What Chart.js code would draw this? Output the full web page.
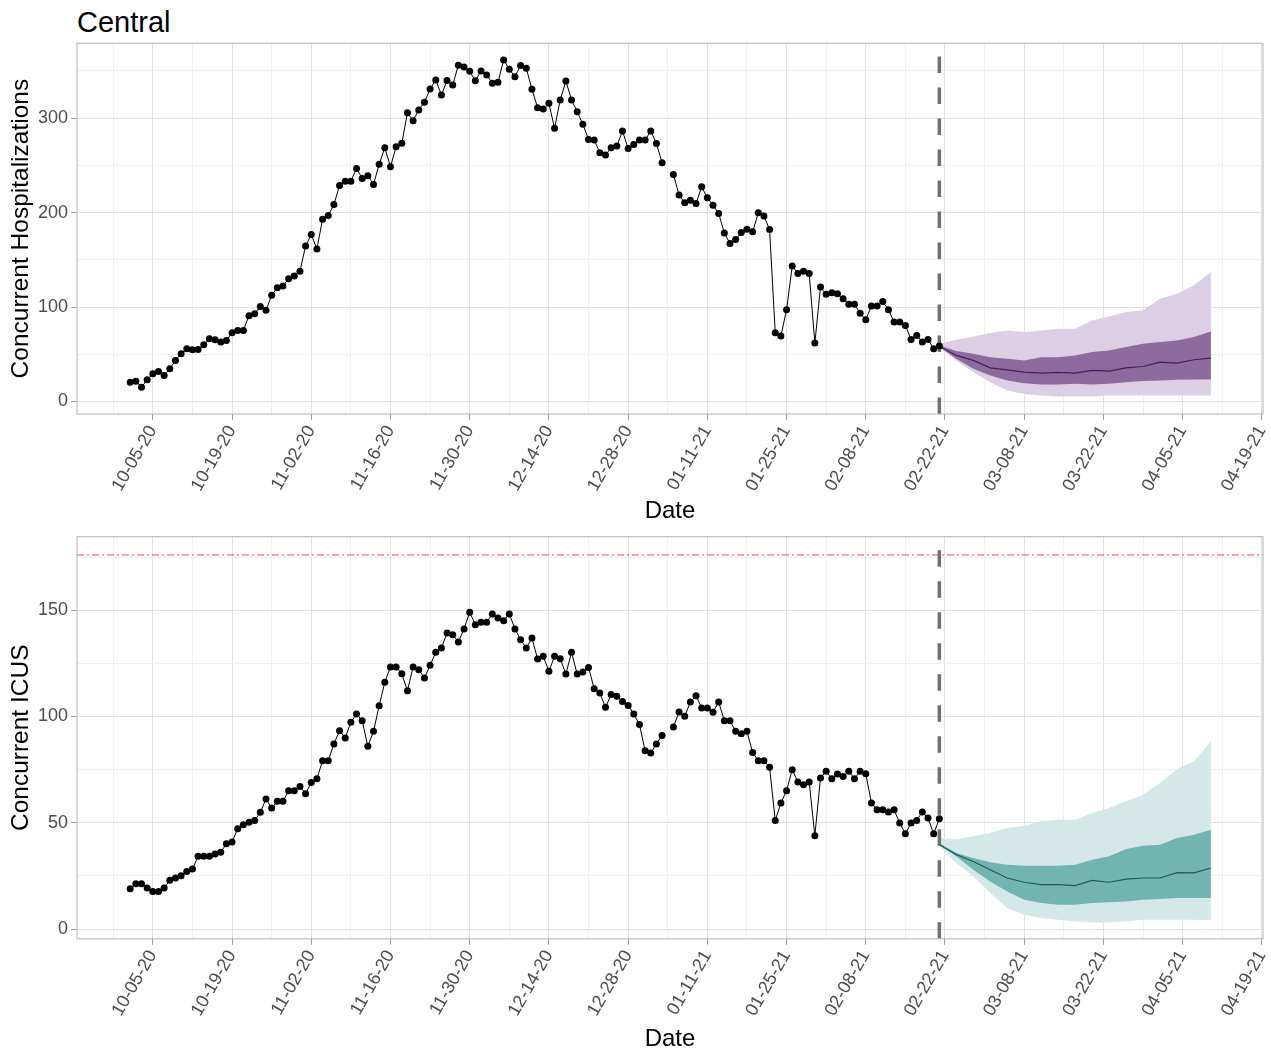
<!DOCTYPE html>
<html>
<head>
<meta charset="utf-8">
<script src="https://cdn.jsdelivr.net/npm/chart.js@4.4.1/dist/chart.umd.min.js"></script>
<style>
  html, body { margin: 0; padding: 0; background: #fff; }
  body { width: 1271px; height: 1051px; position: relative; overflow: hidden; font-family: "Liberation Sans", Arial, sans-serif; }
  #title { position: absolute; left: 77px; top: 8px; font-size: 29px; line-height: 29px; color: #000; }
  .box { position: absolute; left: 0; width: 1271px; }
  #top { top: 0; height: 526px; }
  #bottom { top: 526px; height: 525px; }
</style>
</head>
<body>
<div id="title">Central</div>
<div class="box" id="top"><canvas id="hospChart"></canvas></div>
<div class="box" id="bottom"><canvas id="icuChart"></canvas></div>
<script>
// x values are days since 10-05-20; observed data starts 10-01-20 (day -4), one value per day
const firstDay = -4;

const hospObs = [
  20.5, 21.5, 15.2, 23, 29.4, 31.8, 27.6, 34.7, 43.5, 50.6,
  55.9, 54.8, 55, 60, 66.5, 65.5, 62.9, 64.5, 72.8, 75.3,
  75.3, 90.9, 93, 100.7, 96.5, 112.4, 120.5, 122.3, 130, 132.9,
  137.9, 164.7, 176.7, 161.5, 193, 196.9, 208.6, 228.7, 233.3, 233.3,
  246.8, 236.2, 239, 229.8, 251.3, 268.6, 248.5, 269.7, 273.3, 305.7,
  297.2, 308.6, 316.8, 330.9, 340.4, 324.5, 339.7, 335.1, 356, 354,
  349.5, 339.5, 350, 345.7, 336.9, 337.9, 361.6, 351.7, 343.9, 355.6,
  352.8, 330.5, 311.1, 309.6, 315.7, 289.2, 319.2, 339.3, 319.2, 306.8,
  293.4, 277.5, 276.8, 263.3, 260.9, 268.6, 270.4, 286.3, 267.9, 272.2,
  276.8, 276.8, 286.3, 273.2, 252.7, null, 240.4, 218.5, 210.3, 213.1,
  209.6, 227.3, 215.6, 207.8, 199, 178.5, 167.2, 171.4, 178.9, 182.4,
  179.6, 199.7, 196.5, 182, 72.8, 69.3, 97.2, 143.5, 135.4, 137.9,
  135.4, 61.9, 121.2, 113.5, 115.2, 114.2, 108.9, 103, 103, 93.5,
  86.6, 101.1, 101.1, 106, 97.2, 84.1, 84.1, 80.6, 65.7, 70,
  62.9, 65.7, 55.8, 58.7
];

const icuObs = [
  19, 21.3, 21.3, 19.3, 17.7, 17.7, 19.3, 22.9, 24, 25.1,
  27.1, 28.2, 34.2, 34.2, 34.2, 35.3, 36.1, 40.1, 40.9, 47.2,
  49.1, 50.2, 51.1, 54.9, 61.2, 56.9, 60.1, 60.1, 65.1, 65.1,
  67.1, 63.7, 69, 70.7, 79.2, 79.2, 87.1, 93.3, 89.9, 97.3,
  101.2, 98, 86, 93, 105.1, 116.1, 123.3, 123.3,
  120.1, 112.1, 123.3, 122, 118.1, 124.1, 130.2, 132.2, 139.3, 138.5,
  135.1, 141.2, 149, 143.2, 144.3, 144.3, 148.2, 146.4, 145.1, 148.2,
  141.2, 136.1, 132.2, 136.9, 127.1, 128.3, 121.3, 128.3, 127.2, 120,
  130.2, 120, 120.9, 123.1, 113.1, 111.1, 104.3, 110.3, 109.5, 107.1,
  105.2, 101.2, 96.2, 83.9, 82.8, 87.1, 91.1,
  null,
  95.1, 102.1, 100.1, 106.8, 109.8, 104, 104, 102, 106.8, 98,
  98, 93, 91.9, 93, 83.1, 79.2, 79.2, 76.1, 51.1, 59.3,
  65.1, 75, 69.2, 67.9, 69.2, 43.9, 71.1, 74.2, 70.7, 72.9,
  71.8, 74.2, 70.7, 74.2, 73.1, 59.3, 56.1, 56.1, 55.1, 56.1,
  49.9, 44.8, 49.9, 51.1, 55.1, 52.2, 44.8, 51.9
];

// projection (02-21-21 onwards)
const cutDay = 139;
const fcDays = [139, 142, 145, 148, 151, 154, 157, 160, 163, 166, 169, 172, 175, 178, 181, 184, 187];

const hospMed  = [58.5, 48.8, 43.5, 35.7, 33.6, 31.1, 30, 30.8, 30, 32.9, 32.2, 35.7, 37.1, 41.7, 40.6, 44.2, 45.9];
const hospLo50 = [57.6, 45.2, 34.6, 27.6, 22.3, 19.4, 18, 18, 18.7, 18, 18.7, 20.5, 21.6, 22.3, 23, 23.3, 23.3];
const hospHi50 = [59.4, 53.4, 50.5, 47, 45.2, 43.5, 47, 47, 48.8, 52.3, 54.1, 57.6, 61.1, 62.9, 64.7, 68.2, 74.2];
const hospLo90 = [58.3, 43.5, 31.1, 20.5, 11.7, 8.1, 6.4, 5.3, 5.3, 5.3, 6.4, 6.4, 6.4, 6.4, 6.4, 6.4, 6.4];
const hospHi90 = [61, 65.4, 68.9, 72.5, 75.3, 73.5, 75.3, 77, 77.1, 85.9, 90.1, 94.7, 96.5, 108.9, 114.2, 123, 137];

const icuMed  = [39.7, 35, 31.8, 27.9, 24, 22, 20.9, 20.9, 20.4, 22.9, 22, 23.5, 24, 24, 26.5, 26.4, 28.7];
const icuLo50 = [39.7, 34.2, 27.9, 22.4, 17.7, 13.8, 12.2, 11.4, 11.4, 12.2, 12.6, 13, 13.8, 14.1, 14.6, 14.6, 14.6];
const icuHi50 = [40.5, 35.8, 33.4, 31.4, 30.3, 29.8, 29.8, 29.8, 30.3, 32.6, 34.2, 37.6, 39.2, 39.7, 42.8, 44.4, 46.7];
const icuLo90 = [38.9, 31.1, 24.8, 16.9, 9.9, 6.7, 5.2, 4.4, 3.6, 3.1, 3.1, 3.6, 4.4, 4.4, 4.4, 4.4, 4.1];
const icuHi90 = [42.8, 42.4, 43.6, 45.2, 47.5, 48.6, 50.7, 51.4, 51.4, 54.6, 56.9, 60.1, 63.2, 68.7, 75.3, 78.9, 88.3];

const icuCapacity = 176;

const tickDays = [0, 14, 28, 42, 56, 70, 84, 98, 112, 126, 140, 154, 168, 182, 196];
const tickLabels = ['10-05-20', '10-19-20', '11-02-20', '11-16-20', '11-30-20', '12-14-20', '12-28-20',
  '01-11-21', '01-25-21', '02-08-21', '02-22-21', '03-08-21', '03-22-21', '04-05-21', '04-19-21'];
const hospTicks = [0, 100, 200, 300];
const icuTicks = [0, 50, 100, 150];

const FONT = '"Liberation Sans", Arial, sans-serif';
const X_MIN = -13.4, X_MAX = 196.2;

// majors plus the half-way minor lines, inside the range
function withMinor(majors, min, max) {
  const half = (majors[1] - majors[0]) / 2;
  const out = [];
  for (let v = majors[0] - half; v <= max + 1e-9; v += half) {
    if (v >= min - 1e-9) out.push(v);
  }
  return out;
}

function gridOpts(majors) {
  return {
    color: ctx => majors.includes(ctx.tick.value) ? '#e1e1e1' : '#efefef',
    lineWidth: 1,
    tickLength: 6,
    tickColor: ctx => majors.includes(ctx.tick.value) ? '#9e9e9e' : 'rgba(0,0,0,0)',
  };
}

const panelBorder = {
  id: 'panelBorder',
  afterDatasetsDraw(chart) {
    const { ctx, chartArea: a } = chart;
    ctx.save();
    ctx.strokeStyle = '#b3b3b3';
    ctx.lineWidth = 1;
    ctx.strokeRect(a.left, a.top, a.right - a.left, a.bottom - a.top);
    ctx.restore();
  }
};

function makeChart(id, opt) {
  const obsPts = opt.obs.map((v, i) => ({ x: firstDay + i, y: v }));
  const fc = arr => fcDays.map((d, i) => ({ x: d, y: arr[i] }));

  const datasets = [
    { data: obsPts, borderColor: '#000', borderWidth: 1, pointRadius: 3.5, pointBackgroundColor: '#000', pointBorderWidth: 0 },
    { data: fc(opt.med), borderColor: opt.medColor, borderWidth: 1.2, pointRadius: 0 },
    { data: [{ x: cutDay, y: opt.yMin }, { x: cutDay, y: opt.yMax }], borderColor: '#707070', borderWidth: 3.5, borderDash: [16.5, 14.5], pointRadius: 0 },
  ];
  if (opt.capacity != null) {
    datasets.push({ data: [{ x: X_MIN, y: opt.capacity }, { x: X_MAX, y: opt.capacity }], borderColor: '#ee4b40', borderWidth: 1.2, borderDash: [7, 3, 2, 3], pointRadius: 0 });
  }
  datasets.push(
    { data: fc(opt.hi50), borderWidth: 0, pointRadius: 0, fill: '+1', backgroundColor: opt.dark },
    { data: fc(opt.lo50), borderWidth: 0, pointRadius: 0 },
    { data: fc(opt.hi90), borderWidth: 0, pointRadius: 0, fill: '+1', backgroundColor: opt.light },
    { data: fc(opt.lo90), borderWidth: 0, pointRadius: 0 }
  );

  const xAll = withMinor(tickDays, X_MIN, X_MAX);
  const yAll = withMinor(opt.yTicks, opt.yMin, opt.yMax);

  return new Chart(document.getElementById(id), {
    type: 'line',
    data: { datasets },
    plugins: [panelBorder],
    options: {
      responsive: true,
      maintainAspectRatio: false,
      animation: false,
      devicePixelRatio: 1,
      layout: { padding: { top: opt.padTop, right: 8, left: 0, bottom: 0 } },
      elements: { line: { tension: 0 } },
      plugins: { legend: { display: false }, tooltip: { enabled: false } },
      scales: {
        x: {
          type: 'linear', min: X_MIN, max: X_MAX,
          afterBuildTicks: s => { s.ticks = xAll.map(v => ({ value: v })); },
          afterFit: s => { s.height = opt.xHeight; s.paddingLeft = 0; s.paddingRight = 0; },
          grid: gridOpts(tickDays),
          border: { display: false },
          ticks: {
            autoSkip: false, minRotation: 60, maxRotation: 60, padding: 2,
            color: '#4d4d4d', font: { family: FONT, size: 18 },
            callback: v => { const k = tickDays.indexOf(v); return k >= 0 ? tickLabels[k] : ''; }
          },
          title: { display: true, text: 'Date', color: '#000', font: { family: FONT, size: 24 }, padding: { top: 0, bottom: opt.dateBottom } }
        },
        y: {
          type: 'linear', min: opt.yMin, max: opt.yMax,
          afterBuildTicks: s => { s.ticks = yAll.map(v => ({ value: v })); },
          afterFit: s => { s.width = 77; s.paddingTop = 0; s.paddingBottom = 0; },
          grid: gridOpts(opt.yTicks),
          border: { display: false },
          ticks: {
            padding: 3, color: '#4d4d4d', font: { family: FONT, size: 18 },
            callback: v => opt.yTicks.includes(v) ? String(v) : ''
          },
          title: { display: true, text: opt.yTitle, color: '#000', font: { family: FONT, size: 24.5 }, padding: { top: 7, bottom: 0 } }
        }
      }
    }
  });
}

makeChart('hospChart', {
  obs: hospObs, med: hospMed, lo50: hospLo50, hi50: hospHi50, lo90: hospLo90, hi90: hospHi90,
  medColor: '#4b1d57', dark: '#8e6b9e', light: '#dccfe3',
  yTicks: hospTicks, yMin: -13.2, yMax: 379.2, yTitle: 'Concurrent Hospitalizations',
  padTop: 43.3, xHeight: 112, dateBottom: 0
});

makeChart('icuChart', {
  obs: icuObs, med: icuMed, lo50: icuLo50, hi50: icuHi50, lo90: icuLo90, hi90: icuHi90,
  medColor: '#1d5a56', dark: '#72b5b0', light: '#d3e8e7',
  yTicks: icuTicks, yMin: -4.6, yMax: 184.6, yTitle: 'Concurrent ICUS', capacity: icuCapacity,
  padTop: 10.7, xHeight: 112.2, dateBottom: -3
});
</script>
</body>
</html>
